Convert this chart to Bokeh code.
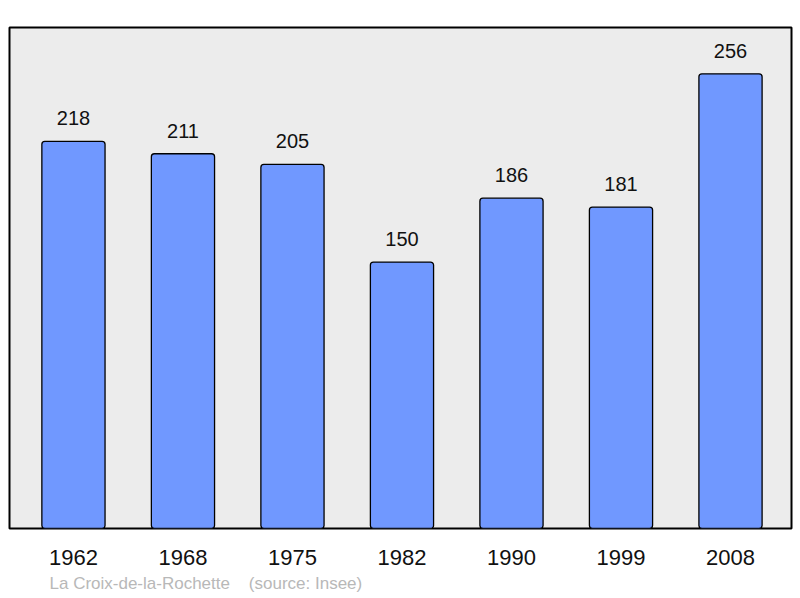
from bokeh.plotting import figure
from bokeh.models import Range1d, FixedTicker, Title, ColumnDataSource
from bokeh.core.properties import value
from bokeh.embed import file_html
from bokeh.resources import INLINE

years = ["1962", "1968", "1975", "1982", "1990", "1999", "2008"]
population = [218, 211, 205, 150, 186, 181, 256]
commune = "La Croix-de-la-Rochette"
source_note = "(source: Insee)"

idx = list(range(len(years)))
src = ColumnDataSource(dict(x=idx, top=population, label=[str(v) for v in population]))

p = figure(width=800, height=598, output_backend="svg", toolbar_location=None,
           x_range=Range1d(-0.584, 6.557), y_range=Range1d(0, 282.1),
           min_border_left=9, min_border_right=9, min_border_top=27, min_border_bottom=70,
           background_fill_color="#ececec", border_fill_color="white",
           outline_line_color="black", outline_line_width=2)

p.vbar(x="x", top="top", bottom=0, width=0.577, source=src,
       fill_color="#7098ff", line_color="black", line_width=1.3, border_radius=3)

p.text(x="x", y="top", text="label", source=src, y_offset=-23,
       text_align="center", text_baseline="middle",
       text_font=value("Liberation Sans"), text_font_size="20px", text_color="#111111")

p.xgrid.visible = False
p.ygrid.visible = False
p.yaxis.visible = False
xa = p.xaxis[0]
xa.ticker = FixedTicker(ticks=idx)
xa.major_label_overrides = {i: y for i, y in zip(idx, years)}
xa.axis_line_color = None
xa.major_tick_line_color = None
xa.minor_tick_line_color = None
xa.major_label_text_font = "Liberation Sans"
xa.major_label_text_font_size = "22px"
xa.major_label_text_color = "#111111"
xa.major_label_standoff = 15

note = Title(text=commune + "\u00a0" * 4 + source_note, align="left", offset=40,
             text_font="Liberation Sans", text_font_size="17px", text_font_style="normal",
             text_color="#b8b8b8", standoff=8)
p.add_layout(note, "below")

open("out.html", "w").write(file_html(p, INLINE))
